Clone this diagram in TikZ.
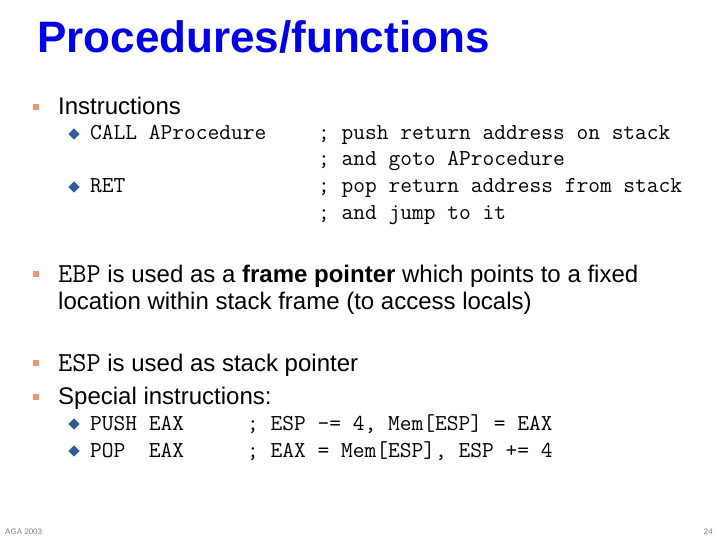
\documentclass[tikz,border=0pt]{standalone}
\usepackage{fontspec}
\setmainfont{Liberation Sans}
\definecolor{titleblue}{RGB}{0,0,230}
\definecolor{sq}{RGB}{240,150,110}
\definecolor{dia}{RGB}{50,90,150}
\begin{document}
\begin{tikzpicture}[x=1pt,y=-1pt,
  txt/.style={anchor=base west,inner sep=0pt,font=\fontsize{24}{26}\selectfont},
  code/.style={anchor=base west,inner sep=0pt,font=\fontsize{22.8}{24}\ttfamily},
  sqb/.style={fill=sq,minimum size=6pt,inner sep=0pt},
  diab/.style={fill=dia,minimum size=8pt,inner sep=0pt,rotate=45}]
\useasboundingbox (0,0) rectangle (720,540);
\node[anchor=base west,inner sep=0pt,font=\fontsize{44}{48}\bfseries,text=titleblue] (title) at (37,53) {Procedures/functions};
\node[sqb] (b1) at (36,107) {};
\node[txt] (t1) at (58,115) {Instructions};
\node[diab] (d1) at (74,134) {};
\node[code] (c1) at (90,140) {CALL AProcedure};
\node[diab] (d2) at (74,187) {};
\node[code] (c2) at (90,193) {RET};
\node[code] (s1) at (318,140) {; push return address on stack};
\node[code] (s2) at (318,166) {; and goto AProcedure};
\node[code] (s3) at (318,193) {; pop return address from stack};
\node[code] (s4) at (318,219) {; and jump to it};
\node[sqb] (b2) at (36,274) {};
\node[txt] (t2) at (58,282) {{\fontsize{27.5}{28}\ttfamily EBP} is used as a \textbf{frame pointer} which points to a fixed};
\node[txt] (t3) at (58,309) {location within stack frame (to access locals)};
\node[sqb] (b3) at (36,363) {};
\node[txt] (t4) at (58,371) {{\fontsize{27.5}{28}\ttfamily ESP} is used as stack pointer};
\node[sqb] (b4) at (36,397) {};
\node[txt] (t5) at (58,404) {Special instructions:};
\node[diab] (d3) at (74,424) {};
\node[code] (c3) at (90,430) {PUSH EAX};
\node[code] (s5) at (247,430) {; ESP -= 4, Mem[ESP] = EAX};
\node[diab] (d4) at (74,451) {};
\node[code] (c4) at (90,457) {POP\ \ EAX};
\node[code] (s6) at (247,457) {; EAX = Mem[ESP], ESP += 4};
\node[anchor=base west,inner sep=0pt,font=\fontsize{8}{9}\selectfont,text=gray] (f1) at (5,534) {AGA 2003};
\node[anchor=base east,inner sep=0pt,font=\fontsize{8}{9}\selectfont,text=gray] (f2) at (713,534) {24};
\end{tikzpicture}
\end{document}
